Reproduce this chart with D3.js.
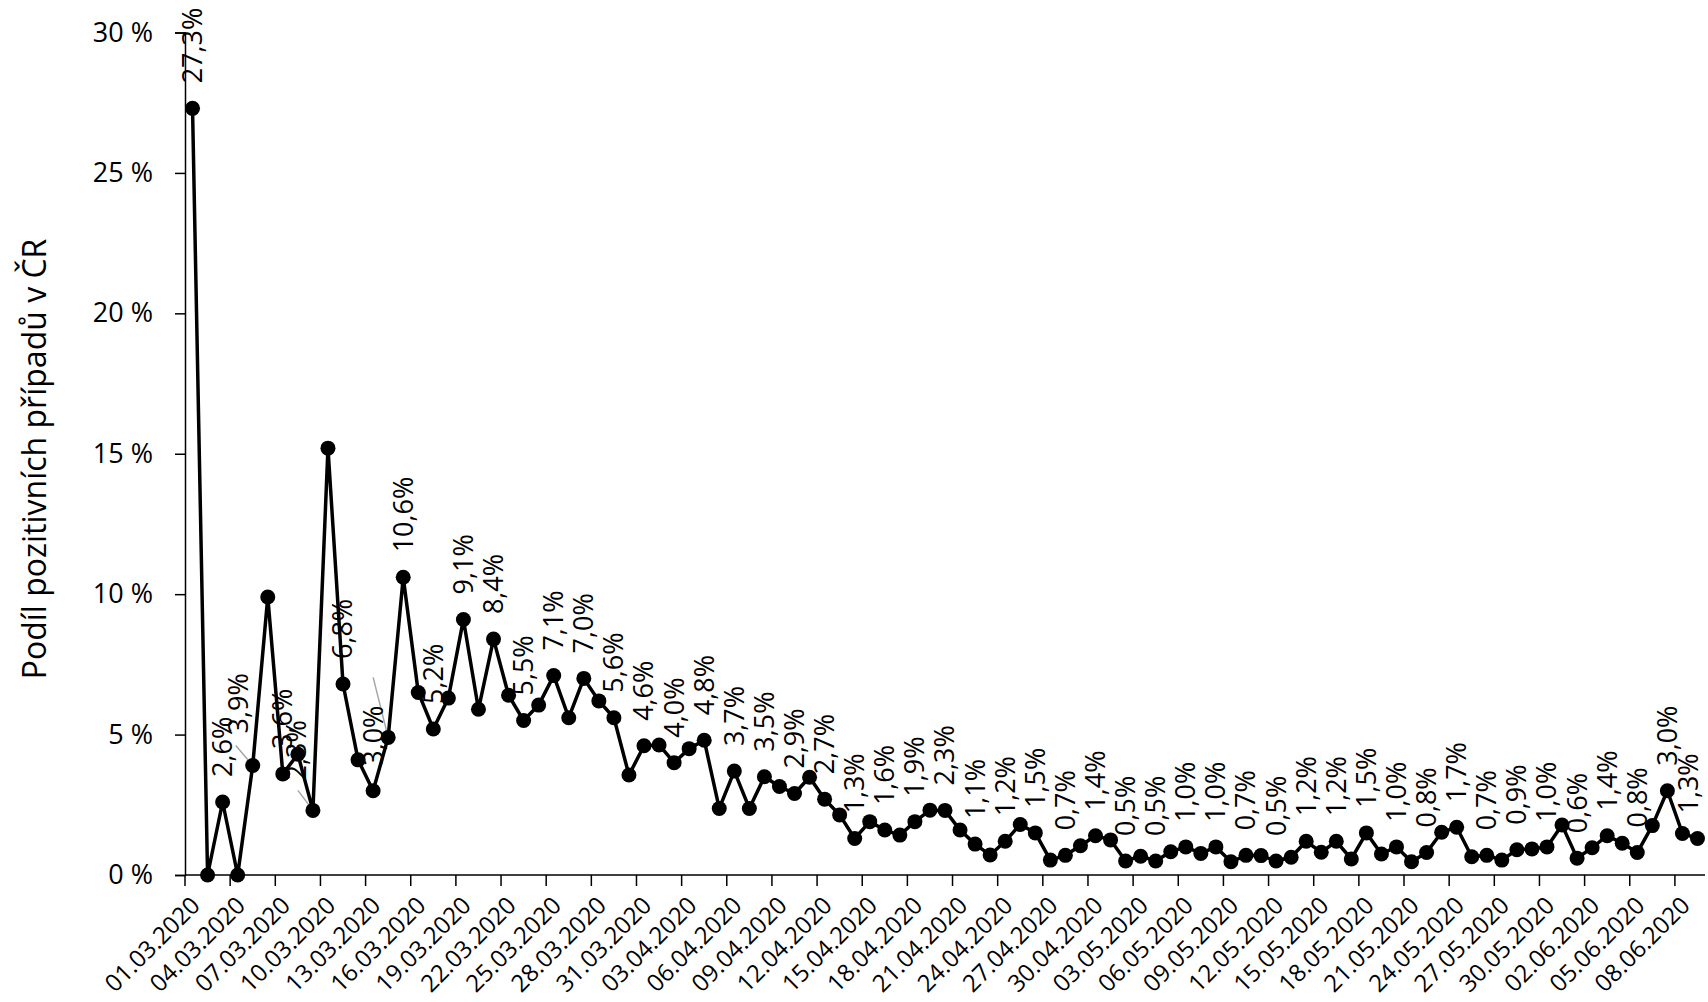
<!DOCTYPE html>
<html>
<head>
<meta charset="utf-8">
<script src="https://cdn.jsdelivr.net/npm/d3@7"></script>
<style>
  body { margin: 0; background: #fff; }
  svg text { font-family: "Open Sans", "Noto Sans", sans-serif; fill: #000; }
</style>
</head>
<body>
<div id="chart"></div>
<script>
// denni podil pozitivnich testu, 01.03.2020 - 09.06.2020
const firstDay = new Date(2020, 2, 1);
const lastDay = new Date(2020, 5, 10);
const days = d3.timeDays(firstDay, lastDay);
const dayLabels = days.map(d3.timeFormat("%d.%m.%Y"));

const positiveShare = [
  27.3, 0, 2.6, 0, 3.9, 9.9, 3.6, 4.3, 2.3, 15.2,
  6.8, 4.1, 3.0, 4.9, 10.6, 6.5, 5.2, 6.3, 9.1, 5.9,
  8.4, 6.4, 5.5, 6.05, 7.1, 5.6, 7.0, 6.2, 5.6, 3.56,
  4.6, 4.63, 4.0, 4.5, 4.8, 2.37, 3.7, 2.37, 3.5, 3.15,
  2.9, 3.48, 2.7, 2.14, 1.3, 1.9, 1.6, 1.42, 1.9, 2.31,
  2.3, 1.6, 1.1, 0.71, 1.2, 1.8, 1.5, 0.53, 0.7, 1.04,
  1.4, 1.25, 0.5, 0.67, 0.5, 0.83, 1.0, 0.77, 1.0, 0.47,
  0.7, 0.69, 0.5, 0.63, 1.2, 0.81, 1.2, 0.57, 1.5, 0.75,
  1.0, 0.47, 0.8, 1.52, 1.7, 0.65, 0.7, 0.53, 0.9, 0.93,
  1.0, 1.78, 0.6, 0.97, 1.4, 1.13, 0.8, 1.76, 3.0, 1.48,
  1.3
];

const yTicks = [0, 5, 10, 15, 20, 25, 30];
const yTitle = "Podíl pozitivních případů v ČR";

const width = 1708, height = 1002;
const plotLeft = 185, plotRight = 1705, plotTop = 32.5, plotBottom = 875;

const svg = d3.select("#chart").append("svg")
  .attr("width", width)
  .attr("height", height);

const x = d3.scaleBand().domain(d3.range(days.length)).range([plotLeft, plotRight]);
const y = d3.scaleLinear().domain([0, 30]).range([plotBottom, plotTop]);
const cx = i => x(i) + x.bandwidth() / 2;

// osa y
const yAxis = svg.append("g")
  .attr("transform", `translate(${plotLeft},0)`)
  .call(d3.axisLeft(y).tickValues(yTicks).tickSize(10).tickPadding(22)
    .tickFormat(d => d + " %"));
yAxis.select(".domain").attr("stroke", "#000").attr("stroke-width", 1.5);
yAxis.selectAll(".tick line").attr("stroke", "#000").attr("stroke-width", 1.5);
yAxis.selectAll(".tick text").style("font-size", "27px").attr("font-family", null);

svg.append("text")
  .attr("transform", `translate(46,459) rotate(-90)`)
  .attr("text-anchor", "middle")
  .style("font-size", "32px")
  .text(yTitle);

// osa x
const xAxis = svg.append("g")
  .attr("transform", `translate(0,${plotBottom})`);
xAxis.append("line")
  .attr("x1", plotLeft).attr("x2", plotRight)
  .attr("stroke", "#000").attr("stroke-width", 1.5);
const every3 = d3.range(0, days.length, 3);
xAxis.selectAll(".xt").data(every3).join("line")
  .attr("x1", i => x(i)).attr("x2", i => x(i))
  .attr("y1", 0).attr("y2", 11)
  .attr("stroke", "#000").attr("stroke-width", 1.5);
xAxis.selectAll(".xl").data(every3).join("text")
  .attr("transform", i => `translate(${cx(i) + 3},${26}) rotate(-45)`)
  .attr("text-anchor", "end")
  .attr("dy", "0.35em")
  .style("font-size", "24px")
  .text(i => dayLabels[i]);

// vodici cary popisku
const leaders = [[4, -17, -20], [8, -15, -20], [13, -15, -60]];
svg.selectAll(".leader").data(leaders).join("line")
  .attr("x1", d => cx(d[0]) + d[1]).attr("y1", d => y(positiveShare[d[0]]) + d[2])
  .attr("x2", d => cx(d[0])).attr("y2", d => y(positiveShare[d[0]]))
  .attr("stroke", "#a6a6a6").attr("stroke-width", 1.5);

// krivka
const line = d3.line().x((d, i) => cx(i)).y(d => y(d));
svg.append("path")
  .datum(positiveShare)
  .attr("d", line)
  .attr("fill", "none")
  .attr("stroke", "#000")
  .attr("stroke-width", 3.5)
  .attr("stroke-linejoin", "round");

svg.selectAll(".dot").data(positiveShare).join("circle")
  .attr("cx", (d, i) => cx(i))
  .attr("cy", d => y(d))
  .attr("r", 7.5)
  .attr("fill", "#000");

// popisky hodnot u kazdeho druheho dne
const fmt = d => d3.format(".1f")(d).replace(".", ",") + "%";
const shift = { 4: [-14, -7], 8: [-16, -5], 100: [-9, 0] };
const labelled = positiveShare.map((v, i) => ({ v, i })).filter(d => d.i % 2 === 0);
svg.selectAll(".lbl").data(labelled).join("text")
  .attr("transform", d => {
    const s = shift[d.i] || [0, 0];
    return `translate(${cx(d.i) + s[0]},${y(d.v) - 25 + s[1]}) rotate(-90)`;
  })
  .attr("dy", "0.35em")
  .style("font-size", "27px")
  .text(d => fmt(d.v));
</script>
</body>
</html>
